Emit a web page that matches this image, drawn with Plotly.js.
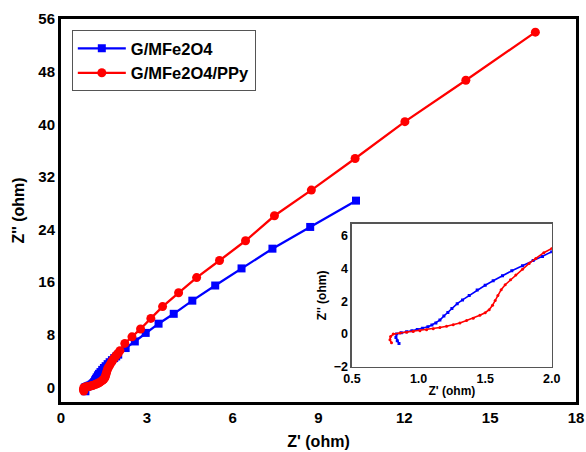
<!DOCTYPE html>
<html>
<head>
<meta charset="utf-8">
<script src="https://cdn.plot.ly/plotly-3.0.1.min.js"></script>
<style>html,body{margin:0;padding:0;background:#fff;}#chart{width:586px;height:452px;}</style>
</head>
<body>
<div id="chart"></div>
<script>
// G/MFe2O4 (blue squares)
const blueX = [0.853,0.84,0.83,0.835,0.87,0.91,0.95,0.99,1.03,1.07,1.10,1.13,1.16,1.19,1.22,1.25,1.29,1.33,1.38,1.44,1.50,1.56,1.63,1.70,1.78,1.86,1.93,2.0,
               2.26,2.58,2.96,3.41,3.94,4.59,5.39,6.31,7.39,8.71,10.31];
const blueY = [-0.57,-0.4,-0.2,0,0.08,0.14,0.2,0.28,0.35,0.45,0.55,0.68,0.85,1.1,1.32,1.55,1.85,2.08,2.35,2.68,2.97,3.24,3.55,3.85,4.16,4.47,4.72,5.0,
               6.0,7.0,8.3,9.7,11.2,13.2,15.5,18.1,21.1,24.4,28.4];
// G/MFe2O4/PPy (red circles)
const redX = [0.797,0.785,0.79,0.81,0.86,0.91,0.96,1.01,1.06,1.11,1.16,1.21,1.26,1.31,1.36,1.41,1.46,1.50,1.53,1.555,1.575,1.595,1.62,1.65,1.69,1.73,1.78,1.83,1.88,1.94,2.0,
              2.06,2.23,2.48,2.78,3.14,3.55,4.11,4.74,5.54,6.45,7.46,8.75,10.28,12.02,14.15,16.58];
const redY = [-0.53,-0.35,-0.15,0,0.07,0.12,0.16,0.21,0.26,0.32,0.40,0.48,0.57,0.68,0.82,0.97,1.15,1.3,1.48,1.75,2.05,2.35,2.7,3.0,3.3,3.6,3.95,4.3,4.6,4.95,5.2,
              5.6,6.7,7.7,8.9,10.5,12.3,14.4,16.7,19.3,22.3,26.1,30.0,34.8,40.4,46.7,54.0];

const names = ['G/MFe2O4', 'G/MFe2O4/PPy'];
const BLUE = '#0000ff', RED = '#ff0000';
const F = 'Arial, "Liberation Sans", sans-serif';

const traces = [
  {x: blueX, y: blueY, name: names[0], type: 'scatter', mode: 'lines+markers',
   line: {color: BLUE, width: 2.3}, marker: {symbol: 'square', size: 8, color: BLUE}},
  {x: redX, y: redY, name: names[1], type: 'scatter', mode: 'lines+markers',
   line: {color: RED, width: 2.3}, marker: {symbol: 'circle', size: 9, color: RED}},
  {x: blueX, y: blueY, showlegend: false, xaxis: 'x2', yaxis: 'y2', type: 'scatter', mode: 'lines+markers',
   line: {color: BLUE, width: 1.6}, marker: {symbol: 'square', size: 3, color: BLUE}},
  {x: redX, y: redY, showlegend: false, xaxis: 'x2', yaxis: 'y2', type: 'scatter', mode: 'lines+markers',
   line: {color: RED, width: 1.6}, marker: {symbol: 'circle', size: 3, color: RED}}
];

const layout = {
  width: 586, height: 452,
  margin: {l: 61, r: 10, t: 19, b: 50},
  paper_bgcolor: '#fff', plot_bgcolor: '#fff',
  font: {family: F, color: '#000'},
  showlegend: true,
  legend: {x: 0.021, y: 0.971, xanchor: 'left', yanchor: 'top',
           bordercolor: '#555', borderwidth: 1, bgcolor: '#fff',
           font: {family: F, size: 16.5, weight: 'bold', color: '#000'},
           tracegroupgap: 0, itemwidth: 48},
  xaxis: {range: [0, 18], tickvals: [0,3,6,9,12,15,18], ticks: '', showgrid: false, zeroline: false,
          showline: true, linecolor: '#000', linewidth: 3, mirror: true,
          tickfont: {family: F, size: 15, weight: 'bold'},
          title: {text: "Z' (ohm)", font: {family: F, size: 16, weight: 'bold'}, standoff: 11}},
  yaxis: {range: [-2.2, 56], tickvals: [0,8,16,24,32,40,48,56], ticks: '', showgrid: false, zeroline: false,
          showline: true, linecolor: '#000', linewidth: 3, mirror: true,
          tickfont: {family: F, size: 15, weight: 'bold'},
          title: {text: "Z'' (ohm)", font: {family: F, size: 16, weight: 'bold'}, standoff: 10}},
  xaxis2: {domain: [0.565, 0.953], anchor: 'y2', range: [0.5, 2.0], tickvals: [0.5,1.0,1.5,2.0], tickformat: '.1f',
           ticks: '', showgrid: false, zeroline: false, showline: true, linecolor: '#555', linewidth: 1.5, mirror: true,
           tickfont: {family: F, size: 12.5, weight: 'bold'},
           title: {text: "Z' (ohm)", font: {family: F, size: 12, weight: 'bold'}, standoff: 1}},
  yaxis2: {domain: [0.0914, 0.465], anchor: 'x2', range: [-2, 6.7], tickvals: [-2,0,2,4,6],
           ticks: '', showgrid: false, zeroline: false, showline: true, linecolor: '#555', linewidth: 1.5, mirror: true,
           tickfont: {family: F, size: 12.5, weight: 'bold'},
           title: {text: "Z'' (ohm)", font: {family: F, size: 12, weight: 'bold'}, standoff: 4}}
};

Plotly.newPlot('chart', traces, layout, {displayModeBar: false, staticPlot: true});
</script>
</body>
</html>
